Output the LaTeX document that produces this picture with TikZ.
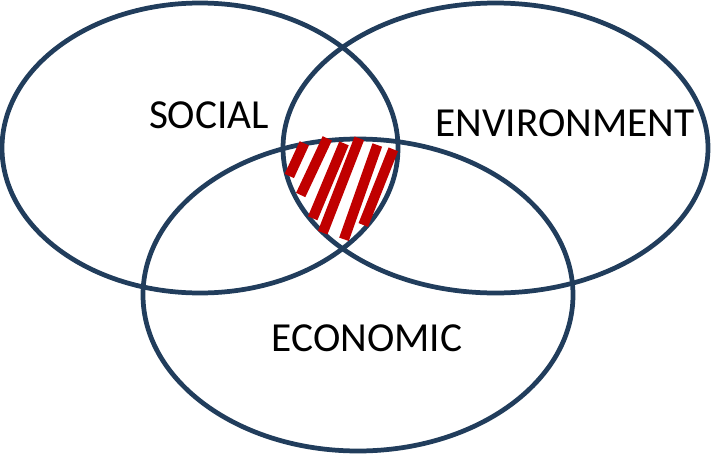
\documentclass[tikz,border=0pt]{standalone}
\usepackage{fontspec}
\setmainfont{Carlito}
\usetikzlibrary{positioning}
\definecolor{darkblue}{RGB}{33,61,92}
\definecolor{darkred}{RGB}{192,0,0}

\begin{document}
\begin{tikzpicture}[
		ring/.style={draw=darkblue,line width=2.7pt},
		label/.style={font=\fontsize{23.5}{26}\selectfont,inner sep=0pt},
		hatch/.style={draw=darkred,line width=5.8pt}]
		\useasboundingbox (0,0) rectangle (14.34,9.08);
		\draw[ring] (4.0,6.12) ellipse [x radius=3.96cm, y radius=2.9cm];
		\draw[ring] (9.91,6.12) ellipse [x radius=4.25cm, y radius=2.9cm];
		\draw[ring] (7.16,3.18) ellipse [x radius=4.3cm, y radius=3.12cm];
		\foreach \a/\b in {{6.086,6.213}/{5.786,5.56},{6.546,6.313}/{6.014,5.18},
			{6.88,6.213}/{6.254,4.714},{7.186,6.313}/{6.454,4.426},
			{7.546,6.18}/{6.88,4.294},{7.866,6.093}/{7.266,4.58}}
		\draw[hatch] (\a) -- (\b);
		\node[label] (social) at (4.18,6.78) {SOCIAL};
		\node[label] (env) at (11.3,6.61) {ENVIRONMENT};
		\node[label] (econ) at (7.34,2.31) {ECONOMIC};
	\end{tikzpicture}
\end{document}
